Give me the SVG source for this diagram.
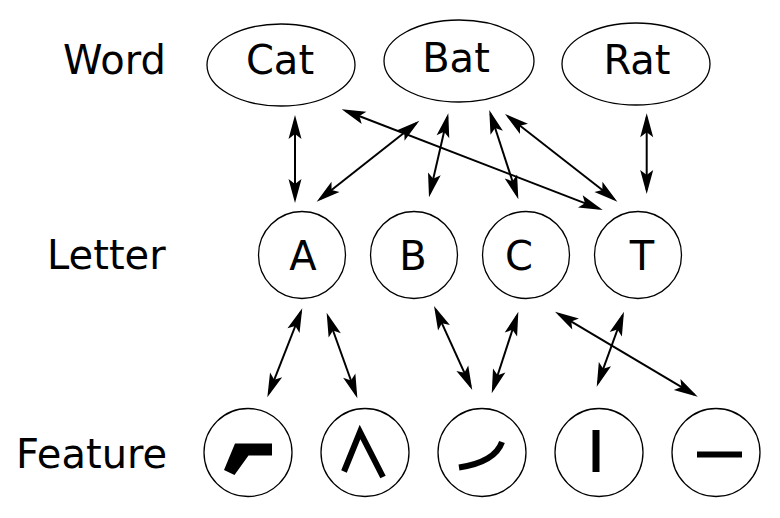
<svg xmlns="http://www.w3.org/2000/svg" width="780" height="518" viewBox="0 0 780 518">
<style>
  .node { fill: #fff; stroke: #000; stroke-width: 1.3; }
  .t { font-family: "DejaVu Sans", "Liberation Sans", sans-serif; font-size: 40px; fill: #000; }
  .tm { text-anchor: middle; }
  .edge { fill: none; stroke: #000; stroke-width: 2; marker-start: url(#ah); marker-end: url(#ah); }
  .glyph { fill: #000; }
  .gs { fill: none; stroke: #000; }
</style>
<defs>
  <marker id="ah" markerUnits="userSpaceOnUse" viewBox="-26 -8 28 16" markerWidth="28" markerHeight="16" refX="-4" refY="0" orient="auto-start-reverse">
    <path d="M0,0 L-24,-6.5 L-19,0 L-24,6.5 Z" fill="#000"/>
  </marker>
</defs>
<rect width="780" height="518" fill="#fff"/>

<g id="labels">
  <text class="t" x="63" y="74">Word</text>
  <text class="t" x="47" y="269">Letter</text>
  <text class="t" x="16" y="468">Feature</text>
</g>

<g id="word-cat"><ellipse class="node" cx="281" cy="65" rx="74" ry="41"/><text class="t tm" x="280" y="74">Cat</text></g>
<g id="word-bat"><ellipse class="node" cx="459" cy="61" rx="75" ry="41"/><text class="t tm" x="456" y="72">Bat</text></g>
<g id="word-rat"><ellipse class="node" cx="636" cy="64" rx="74" ry="41"/><text class="t tm" x="637" y="74">Rat</text></g>

<g id="letter-a"><circle class="node" cx="302" cy="255" r="43.5"/><text class="t tm" x="303" y="270">A</text></g>
<g id="letter-b"><circle class="node" cx="414" cy="255" r="43.5"/><text class="t tm" x="413" y="270">B</text></g>
<g id="letter-c"><circle class="node" cx="526" cy="255" r="43.5"/><text class="t tm" x="519" y="270">C</text></g>
<g id="letter-t"><circle class="node" cx="638" cy="255" r="43.5"/><text class="t tm" x="642" y="270">T</text></g>

<g id="feature-1"><circle class="node" cx="248" cy="452.5" r="44"/><polygon class="glyph" points="235,443.5 272,443.5 272,455.5 248.5,455.5 234.5,475 224,470"/></g>
<g id="feature-2"><circle class="node" cx="365" cy="452.5" r="44"/><polyline class="gs" stroke-width="6" stroke-linejoin="miter" points="344,471.5 360,432 383,477"/></g>
<g id="feature-3"><circle class="node" cx="482" cy="452.5" r="44"/><path class="gs" stroke-width="6" d="M459,467.5 Q495,462 502,442"/></g>
<g id="feature-4"><circle class="node" cx="599" cy="452.5" r="44"/><rect class="glyph" x="592.5" y="430" width="7" height="42"/></g>
<g id="feature-5"><circle class="node" cx="716" cy="452.5" r="44"/><rect class="glyph" x="697" y="451.5" width="45" height="6"/></g>

<g id="connectors">
  <line class="edge" x1="295" y1="119" x2="295" y2="199"/>
  <line class="edge" x1="345.4" y1="110.7" x2="599" y2="208.6"/>
  <line class="edge" x1="319.8" y1="199.2" x2="416.2" y2="123.2"/>
  <line class="edge" x1="447.4" y1="117.2" x2="429.9" y2="193.4"/>
  <line class="edge" x1="490.5" y1="113.8" x2="517.1" y2="195.5"/>
  <line class="edge" x1="508.2" y1="116.5" x2="614.2" y2="199.2"/>
  <line class="edge" x1="646.7" y1="117.3" x2="646.7" y2="190"/>
  <line class="edge" x1="300.8" y1="312" x2="268.8" y2="393.6"/>
  <line class="edge" x1="328" y1="316.5" x2="356" y2="394.5"/>
  <line class="edge" x1="435.7" y1="309.6" x2="470.6" y2="386.4"/>
  <line class="edge" x1="517.1" y1="315.5" x2="493" y2="389.5"/>
  <line class="edge" x1="558.4" y1="313.8" x2="694.3" y2="394.7"/>
  <line class="edge" x1="622.6" y1="315.5" x2="598.1" y2="382.9"/>
</g>
</svg>
